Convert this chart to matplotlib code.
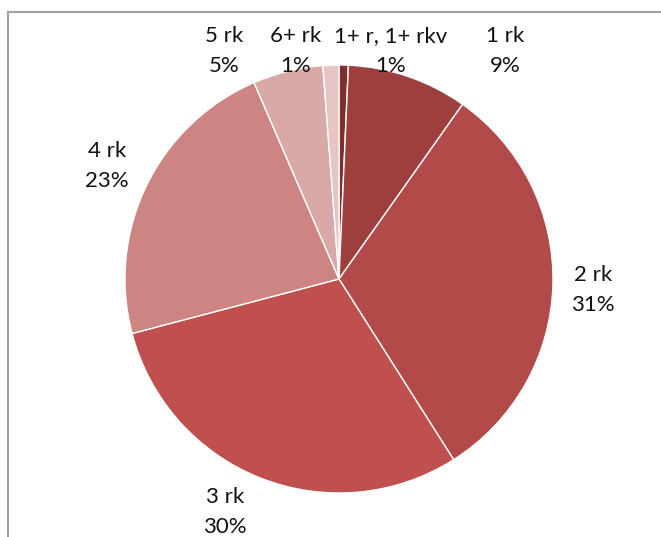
import matplotlib.pyplot as plt

# slices clockwise from 12 o'clock
labels = ["1+ r, 1+ rkv", "1 rk", "2 rk", "3 rk", "4 rk", "5 rk", "6+ rk"]
shares = [0.7, 9.1, 31.2, 29.9, 22.6, 5.3, 1.2]
colors = ["#7e2e2d", "#9d3f3d", "#b14a48", "#c0504d", "#cc8582", "#d9a9a8", "#e6c6c5"]

# label centres in pixels (x, y from top)
label_px = [(391, 51), (505, 51), (593, 290), (225, 512), (107, 166), (224, 51), (296, 51)]

W, H = 661, 537
fig = plt.figure(figsize=(W / 100, H / 100), dpi=100)
ax = fig.add_axes([0, 0, 1, 1])

ax.pie(shares, colors=colors, startangle=90, counterclock=False,
       center=(339, H - 279), radius=214, frame=True,
       wedgeprops=dict(edgecolor="white", linewidth=1.0))
ax.set_xlim(0, W)
ax.set_ylim(0, H)
ax.set_aspect("equal")
ax.axis("off")

# chart border (top and left visible)
ax.plot([8, W], [H - 12, H - 12], color="#a0a0a0", lw=1.5, clip_on=False)
ax.plot([8, 8], [H - 12, 0], color="#a0a0a0", lw=1.5, clip_on=False)

for lab, val, (x, y) in zip(labels, shares, label_px):
    ax.text(x, H - y, f"{lab}\n{round(val):.0f}%", ha="center", va="center",
            fontsize=16, family=["Lato", "DejaVu Sans"], linespacing=1.65,
            color="#111111")

fig.savefig("out.png", dpi=100)
